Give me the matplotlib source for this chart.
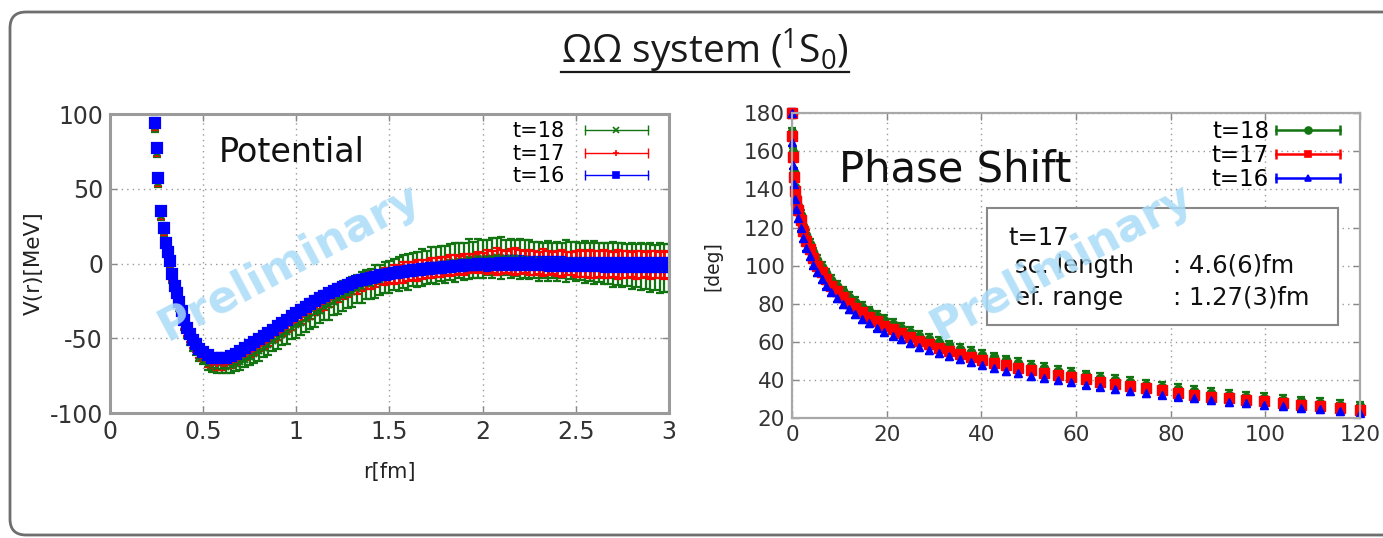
# ΩΩ system (1S0): HAL QCD potential and phase shift, re-drawn with matplotlib
import numpy as np
import matplotlib.pyplot as plt
from matplotlib.lines import Line2D
from matplotlib.patches import FancyBboxPatch, Rectangle
from matplotlib.transforms import IdentityTransform
from matplotlib.legend_handler import HandlerLine2D, HandlerTuple

# ---- potential V(r) [MeV] vs r [fm] ----
r_fm = [0.24, 0.25, 0.26, 0.275, 0.29, 0.30, 0.31, 0.32, 0.335, 0.35,
        0.36, 0.37, 0.385, 0.40, 0.415, 0.43, 0.445, 0.46, 0.48, 0.50,
        0.525, 0.55, 0.575, 0.60, 0.625, 0.65, 0.675, 0.70, 0.725, 0.75,
        0.775, 0.80, 0.825, 0.85, 0.875, 0.90, 0.925, 0.95, 0.975, 1.00,
        1.025, 1.05, 1.075, 1.10, 1.125, 1.15, 1.175, 1.20, 1.225, 1.25,
        1.275, 1.30, 1.325, 1.35, 1.375, 1.40, 1.425, 1.45, 1.475, 1.50,
        1.525, 1.55, 1.575, 1.60, 1.625, 1.65, 1.675, 1.70, 1.725, 1.75,
        1.775, 1.80, 1.825, 1.85, 1.875, 1.90, 1.925, 1.95, 1.975, 2.00,
        2.025, 2.05, 2.075, 2.10, 2.125, 2.15, 2.175, 2.20, 2.225, 2.25,
        2.275, 2.30, 2.325, 2.35, 2.375, 2.40, 2.425, 2.45, 2.475, 2.50,
        2.525, 2.55, 2.575, 2.60, 2.625, 2.65, 2.675, 2.70, 2.725, 2.75,
        2.775, 2.80, 2.825, 2.85, 2.875, 2.90, 2.925, 2.95, 2.975, 3.00]

pot_t16 = [94, 77, 57, 35, 24, 14, 8, 2, -7, -15,
           -20, -26, -32, -38, -43, -47, -51, -54, -57, -59.5,
           -61.5, -63, -63.5, -63.5, -63, -62, -60.5, -58.5, -56.5, -54.5,
           -52.5, -50.5, -48.5, -46.5, -44.3, -42, -39.8, -37.5, -35.2, -33,
           -31, -29, -27, -25, -23.2, -21.5, -20, -18.5, -17, -15.5,
           -14.2, -13, -12, -11, -10.2, -9.5, -8.7, -8, -7.5, -7,
           -6.5, -6, -5.5, -5, -4.6, -4.3, -3.9, -3.6, -3.3, -3,
           -2.7, -2.4, -2.1, -1.8, -1.5, -1.3, -1.0, -0.8, -0.6, -0.4,
           -0.2, -0.1, 0, 0.1, 0.2, 0.2, 0.2, 0.2, 0.1, 0.1,
           0, 0, -0.1, -0.2, -0.2, -0.3, -0.4, -0.5, -0.5, -0.6,
           -0.6, -0.7, -0.7, -0.8, -0.8, -0.9, -0.9, -1.0, -1.0, -1.0,
           -1.0, -1.1, -1.1, -1.1, -1.1, -1.1, -1.0, -1.0, -1.0, -1.0]
err_t16 = [3, 3, 3, 3, 3, 3, 2, 2, 2, 2,
           2, 2, 2, 2, 2, 2, 2, 2, 2, 2,
           2.5, 2.5, 2.5, 2.5, 2.5, 2.5, 2.5, 2.5, 2.5, 2.5,
           2.5, 2.5, 2.5, 2.5, 2.5, 2.5, 2.5, 2.5, 2.5, 2.5,
           3, 3, 3, 3, 3, 3, 3, 3, 3, 3,
           3, 3, 3, 3, 3, 3, 3, 3, 3, 3,
           3.5, 3.5, 3.5, 3.5, 3.5, 3.5, 3.5, 3.5, 3.5, 3.5,
           3.5, 3.5, 3.5, 3.5, 3.5, 3.5, 3.5, 3.5, 3.5, 3.5,
           4.5, 4.5, 4.5, 4.5, 4.5, 4.5, 4.5, 4.5, 4.5, 4.5,
           4.5, 4.5, 4.5, 4.5, 4.5, 4.5, 4.5, 4.5, 4.5, 4.5,
           4.5, 4.5, 4.5, 4.5, 4.5, 4.5, 4.5, 4.5, 4.5, 4.5,
           4.5, 4.5, 4.5, 4.5, 4.5, 4.5, 4.5, 4.5, 4.5, 4.5]

pot_t17 = [92, 75, 55, 33, 22, 12, 6, 0, -9, -17,
           -22.5, -28.5, -35, -41, -46, -50, -54, -57, -60.5, -63,
           -65.5, -67, -67.5, -67.5, -67, -66, -64.5, -62.5, -60.5, -59,
           -57, -55, -53, -51, -48.8, -46.5, -44.3, -42, -39.7, -37.5,
           -35.3, -33.3, -31.3, -29.3, -27.3, -25.5, -23.8, -22, -20.5, -19,
           -17.5, -16, -14.7, -13.5, -12.5, -11.5, -10.5, -9.5, -8.8, -8,
           -7.3, -6.7, -6, -5.5, -5, -4.5, -4, -3.5, -3, -2.5,
           -2.2, -1.8, -1.4, -1.0, -0.7, -0.4, -0.1, 0.2, 0.4, 0.6,
           0.8, 1.0, 1.1, 1.2, 1.2, 1.2, 1.1, 1.0, 0.9, 0.8,
           0.6, 0.5, 0.4, 0.3, 0.2, 0.1, 0.05, 0, -0.1, -0.2,
           -0.2, -0.3, -0.3, -0.4, -0.4, -0.5, -0.5, -0.6, -0.6, -0.6,
           -0.7, -0.7, -0.8, -0.8, -0.8, -0.8, -0.9, -0.9, -1.0, -1.0]
err_t17 = [3, 3, 3, 3, 3, 3, 3, 3, 3, 3,
           2.5, 2.5, 2.5, 2.5, 2.5, 2.5, 2.5, 2.5, 2.5, 2.5,
           3.5, 3, 4, 3.5, 3, 4, 3.5, 3, 4, 3.5,
           4, 3.5, 4.5, 4, 3.5, 4.5, 4, 3.5, 4.5, 4,
           5, 4.5, 5.5, 5, 4.5, 5.5, 5, 4.5, 5.5, 5,
           5, 4.5, 5.5, 5, 4.5, 5.5, 5, 4.5, 5.5, 5,
           6.5, 6, 7, 6.5, 6, 7, 6.5, 6, 7, 6.5,
           6.5, 6, 7, 6.5, 6, 7, 6.5, 6, 7, 6.5,
           8, 7.5, 9, 8, 7.5, 8.5, 9, 8, 7.5, 8.5,
           8, 7.5, 9, 8, 7.5, 8.5, 9, 8, 7.5, 8.5,
           9, 8.5, 9.5, 9, 8.5, 9.5, 9, 8.5, 9.5, 9,
           9, 8.5, 9.5, 9, 8.5, 9.5, 9, 8.5, 9.5, 9]

pot_t18 = [91, 74, 54, 32, 21, 11, 5, -1, -10, -18,
           -23.5, -29.5, -36, -42, -47.5, -52, -56, -59, -62.5, -65,
           -67, -68.5, -69.5, -69.5, -69.5, -68.5, -67.5, -66, -64.5, -62.5,
           -60.5, -58.5, -56.5, -54.5, -52, -50, -47.5, -45.5, -43, -41,
           -39.5, -37, -35.5, -33, -31.5, -29, -27.5, -25.5, -24, -22,
           -20.5, -19, -17, -16, -14, -13.5, -12, -11, -9.5, -9,
           -7.5, -7, -5.5, -5.5, -4, -4, -2.5, -2.5, -1, -1.5,
           0, -0.5, 1, 0.5, 2, 1.5, 3, 2.5, 3.5, 3,
           4, 3.5, 4.5, 3.5, 4, 3.5, 3.5, 3, 3, 2.5,
           2.5, 1.5, 2, 1.5, 2, 1.5, 2, 1.5, 2, 1.5,
           1.5, 1, 1, 0.5, 0.5, 0, 0, -0.5, -0.5, -1,
           -1, -1.5, -1.5, -2, -2, -2.5, -2.5, -3, -3, -3]
err_t18 = [3, 3, 3, 3, 3, 3, 3, 3, 3, 3,
           2.5, 2.5, 2.5, 2.5, 2.5, 2.5, 2.5, 2.5, 2.5, 2.5,
           4, 4, 4, 4, 4, 4.5, 4.5, 5, 5, 5.5,
           6, 6.5, 6, 7, 6.5, 7.5, 7, 8, 7.5, 8.5,
           8, 9, 8.5, 9.5, 8.5, 9, 10, 9, 9.5, 10,
           9, 10, 9.5, 10.5, 9.5, 10, 11, 10, 10.5, 11,
           10.5, 11.5, 11, 12, 11, 11.5, 12.5, 11, 12, 12.5,
           11.5, 12.5, 12, 13, 12, 12.5, 13.5, 12, 13, 12.5,
           12, 13.5, 12.5, 14, 12, 13, 12, 13.5, 12.5, 13,
           12, 13, 11.5, 13.5, 12, 13, 12, 14, 12.5, 13,
           12.5, 14, 13, 14.5, 13, 14, 13.5, 15, 14, 15,
           14, 15.5, 14.5, 16, 15, 16.5, 15, 17, 16, 16]

# ---- phase shift [deg] vs energy ----
energy = [0.0, 0.04, 0.15, 0.33, 0.59, 0.92, 1.33, 1.81, 2.36, 2.99,
          3.69, 4.46, 5.31, 6.24, 7.23, 8.30, 9.45, 10.66, 11.96, 13.32,
          14.76, 16.27, 17.86, 19.52, 21.25, 23.06, 24.94, 26.90, 28.93, 31.03,
          33.21, 35.46, 37.79, 40.18, 42.66, 45.20, 47.82, 50.52, 53.28, 56.12,
          59.04, 62.03, 65.09, 68.23, 71.44, 74.72, 78.08, 81.51, 85.02, 88.60,
          92.25, 95.98, 99.78, 103.65, 107.60, 111.62, 115.72, 119.89]

phase_t18 = [180, 170, 159.5, 149, 141.5, 136.5, 131.5, 126.5, 121, 116,
             111.5, 107, 103, 99.5, 96, 92.5, 89.5, 86.5, 83.5, 81,
             78.5, 76, 73.7, 71.4, 69.3, 67.3, 65.3, 63.3, 61.5, 59.8,
             58.1, 56.5, 54.9, 53.3, 51.8, 50.3, 48.9, 47.5, 46.2, 44.9,
             43.6, 42.4, 41.2, 40, 38.8, 37.6, 36.5, 35.3, 34.2, 33.2,
             32.2, 31.3, 30.5, 29.7, 28.8, 27.9, 27, 26.1]
phase_t17 = [180, 168, 157, 146.5, 139, 134, 129, 124, 118, 113,
             108.5, 104, 100, 96.5, 93, 89.5, 86.5, 83.5, 80.5, 78,
             75.5, 73.2, 70.8, 68.5, 66.5, 64.5, 62.5, 60.5, 58.8, 57,
             55.4, 53.8, 52.2, 50.6, 49.1, 47.7, 46.3, 45, 43.8, 42.6,
             41.4, 40.3, 39.1, 37.9, 36.7, 35.6, 34.5, 33.3, 32.2, 31.2,
             30.3, 29.5, 28.7, 27.9, 27, 26.1, 25.2, 24.3]
phase_t16 = [180, 165, 153, 143, 135, 130, 125, 120, 114.5, 109.5,
             105, 100.5, 96.5, 93, 89.5, 86, 83, 80, 77, 74.5,
             72, 69.8, 67.5, 65.3, 63.3, 61.3, 59.3, 57.4, 55.7, 54,
             52.4, 50.8, 49.2, 47.6, 46.2, 44.8, 43.5, 42.2, 41, 39.8,
             38.7, 37.6, 36.5, 35.4, 34.3, 33.3, 32.3, 31.3, 30.3, 29.4,
             28.5, 27.7, 26.9, 26.1, 25.3, 24.5, 23.7, 22.9]
phase_err = {'t=18': 2.5, 't=17': 2.5, 't=16': 2.0}

labels = ['t=18', 't=17', 't=16']
colors = ['#127512', '#ff0000', '#0000ff']
pot_markers = ['x', '+', 's']
pot_sizes = [4, 5, 6.5]
pot_lw = [1.6, 2.0, 1.6]
phase_markers = ['o', 's', '^']

fit_lines = ['t=17', 'sc. length', 'ef. range']
fit_values = ['', ': 4.6(6)fm', ': 1.27(3)fm']

plt.rcParams['font.family'] = 'DejaVu Sans'
plt.rcParams['axes.unicode_minus'] = False
fig = plt.figure(figsize=(13.83, 5.38), dpi=100)

# slide frame with rounded corners
frame = FancyBboxPatch((10, 3), 1430, 523, boxstyle='round,pad=0,rounding_size=16',
                       transform=IdentityTransform(), fc='none', ec='#6e6e6e', lw=2)
fig.add_artist(frame)

title = fig.text(0.510, 0.881, r'ΩΩ system ($\mathregular{^1}$S$\mathregular{_0}$)',
                 ha='center', va='baseline', fontsize=28, color='#1a1a1a',
                 family=['Open Sans', 'DejaVu Sans'])
fig.canvas.draw()
bb = title.get_window_extent().transformed(fig.transFigure.inverted())
fig.add_artist(Line2D([bb.x0, bb.x1], [0.881 - 0.014, 0.881 - 0.014],
                      transform=fig.transFigure, color='#1a1a1a', lw=1.6))


def style_axes(ax, tick_size, spine_color, spine_w):
    for s in ax.spines.values():
        s.set_color(spine_color)
        s.set_linewidth(spine_w)
    ax.tick_params(direction='in', length=5, width=1, color='#888888',
                   top=True, right=True, labelsize=tick_size, labelcolor='#333333', pad=5)
    ax.grid(True, ls=(0, (1, 3)), color='#9a9a9a', lw=1)
    ax.set_axisbelow(True)


def gnuplot_legend(ax, handles_info, fontsize, anchor, hlen, hpad, lspace):
    # gnuplot style key: label, then a bar with end caps and the point in the middle
    handles, hmap = [], {tuple: HandlerTuple(ndivide=1, pad=0)}
    for color, marker, ms, lw in handles_info:
        caps = Line2D([], [], color=color, lw=lw, marker='|', ms=7, mew=lw)
        mid = Line2D([], [], color=color, lw=0, marker=marker, ms=ms, mew=1.2)
        hmap[caps] = HandlerLine2D(numpoints=2, marker_pad=0)
        hmap[mid] = HandlerLine2D(numpoints=1)
        handles.append((caps, mid))
    ax.legend(handles, labels, handler_map=hmap, loc='upper right', bbox_to_anchor=anchor,
              frameon=False, markerfirst=False, fontsize=fontsize, handlelength=hlen,
              handletextpad=hpad, labelspacing=lspace, borderpad=0, borderaxespad=0)


# ---------------- left: potential ----------------
ax1 = fig.add_axes([0.0795, 0.2323, 0.4042, 0.5558])
style_axes(ax1, 17, '#9b9b9b', 2.2)
pots = [(pot_t18, err_t18), (pot_t17, err_t17), (pot_t16, err_t16)]
for (v, e), c, m, ms, lw in zip(pots, colors, pot_markers, pot_sizes, pot_lw):
    ax1.errorbar(r_fm, v, yerr=e, fmt=m, color=c, ms=ms, mew=1.6,
                 elinewidth=lw, capsize=2.8, capthick=lw)
ax1.set_xlim(0, 3)
ax1.set_ylim(-100, 100)
ax1.set_xticks([0, 0.5, 1, 1.5, 2, 2.5, 3])
ax1.set_xticklabels(['0', '0.5', '1', '1.5', '2', '2.5', '3'])
ax1.set_yticks([-100, -50, 0, 50, 100])
ax1.set_xlabel('r[fm]', fontsize=15, color='#222222')
ax1.xaxis.set_label_coords(0.5, -0.165)
ax1.set_ylabel('V(r)[MeV]', fontsize=15.5, color='#222222')
ax1.yaxis.set_label_coords(-0.118, 0.5)
ax1.text(0.326, 0.87, 'Potential', transform=ax1.transAxes, fontsize=24,
         ha='center', va='center', color='#111111')
ax1.text(0.322, 0.505, 'Preliminary', transform=ax1.transAxes, fontsize=32,
         fontweight='bold', color='#a9dcf7', alpha=0.85, rotation=28,
         ha='center', va='center', rotation_mode='anchor', zorder=6)
gnuplot_legend(ax1, [(c, m, 4, 1.0) for c, m in zip(colors, pot_markers)],
               15, (0.962, 0.975), 3.0, 1.0, 0.12)

# ---------------- right: phase shift ----------------
ax2 = fig.add_axes([0.5727, 0.223, 0.4107, 0.5664])
style_axes(ax2, 15.5, '#a8a8a8', 1.6)
phases = [phase_t18, phase_t17, phase_t16]
for d, c, m, lab in zip(phases, colors, phase_markers, labels):
    ax2.errorbar(energy, d, yerr=phase_err[lab], fmt=m, color=c, ms=7 if m == 's' else 6,
                 elinewidth=1.6, capsize=3, capthick=1.6, clip_on=False)
ax2.set_xlim(0, 120)
ax2.set_ylim(20, 180)
ax2.set_xticks(np.arange(0, 121, 20))
ax2.set_yticks(np.arange(20, 181, 20))
ax2.set_ylabel('[deg]', fontsize=13.5, color='#222222')
ax2.yaxis.set_label_coords(-0.123, 0.5)
ax2.text(0.287, 0.814, 'Phase Shift', transform=ax2.transAxes, fontsize=30,
         ha='center', va='center', color='#111111')
ax2.add_patch(Rectangle((0.343, 0.305), 0.618, 0.384, transform=ax2.transAxes,
                        fc='white', ec='#888888', lw=1.5, zorder=4))
ys = [0.568, 0.476, 0.371]
xs = [0.380, 0.393, 0.393]
for name, val, x, y in zip(fit_lines, fit_values, xs, ys):
    ax2.text(x, y, name, transform=ax2.transAxes, fontsize=17.5, color='#111111',
             va='baseline', zorder=5)
    if val:
        ax2.text(0.671, y, val, transform=ax2.transAxes, fontsize=17.5, color='#111111',
                 va='baseline', zorder=5)
ax2.text(0.475, 0.512, 'Preliminary', transform=ax2.transAxes, fontsize=32,
         fontweight='bold', color='#a9dcf7', alpha=0.85, rotation=28,
         ha='center', va='center', rotation_mode='anchor', zorder=6)
gnuplot_legend(ax2, [(c, m, 5, 1.8) for c, m in zip(colors, phase_markers)],
               16.5, (0.965, 0.978), 2.8, 0.3, 0.05)

fig.savefig('out.png', dpi=100, facecolor='white')
